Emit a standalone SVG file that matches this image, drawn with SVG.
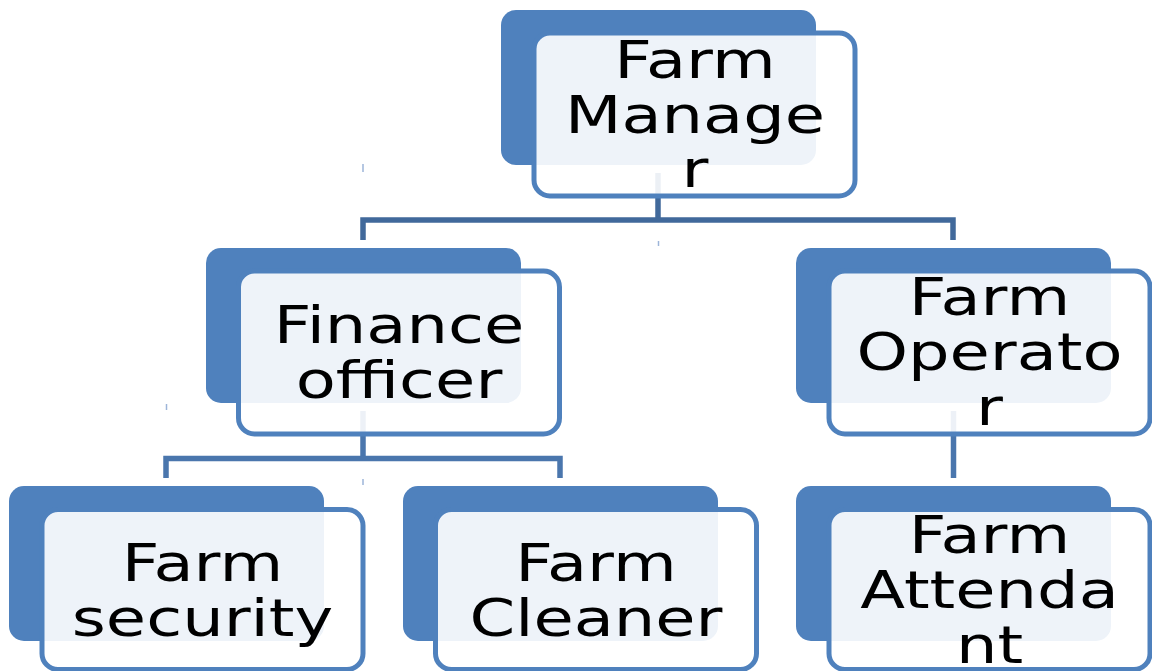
<svg xmlns="http://www.w3.org/2000/svg" width="1152" height="671" viewBox="0 0 1152 671">
<style>
.back{fill:#4F81BD}
.front{fill:#FFFFFF;fill-opacity:0.9;stroke:#4F81BD;stroke-width:5}
.t{font-family:"DejaVu Sans","Verdana",sans-serif;font-size:52px;text-anchor:middle;fill:#000000}
.c1{fill:none;stroke:#41699B;stroke-width:5.5}
.c2{fill:none;stroke:#4A76AD;stroke-width:5.5}
.tick{stroke:#9DB5D9;stroke-width:1.5}
</style>
<rect width="1152" height="671" fill="#FFFFFF"/>
<g id="connectors">
<path class="c1" d="M658,173 V220"/>
<path class="c1" d="M363,240 V220 H953 V240"/>
<path class="c2" d="M363,411 V458.5"/>
<path class="c2" d="M166,478 V458.5 H560 V478"/>
<path class="c2" d="M953.5,411 V478"/>
<line class="tick" x1="363" y1="164" x2="363" y2="172"/>
<line class="tick" x1="658.5" y1="241" x2="658.5" y2="246"/>
<line class="tick" x1="166.5" y1="404" x2="166.5" y2="410"/>
<line class="tick" x1="363" y1="479" x2="363" y2="485"/>
</g>
<g id="farm-manager">
<rect class="back" x="501" y="10" width="315" height="155" rx="15"/>
<rect class="front" x="534" y="33" width="321" height="163" rx="16"/>
<text class="t" transform="translate(695,0) scale(1.26,1)"><tspan x="0" y="78">Farm</tspan><tspan x="0" y="133">Manage</tspan><tspan x="0" y="187">r</tspan></text>
</g>
<g id="finance-officer">
<rect class="back" x="206" y="248" width="315" height="155" rx="15"/>
<rect class="front" x="238.5" y="271" width="321" height="163" rx="16"/>
<text class="t" transform="translate(399,0) scale(1.26,1)"><tspan x="0" y="343">Finance</tspan><tspan x="0" y="398">officer</tspan></text>
</g>
<g id="farm-operator">
<rect class="back" x="796" y="248" width="315" height="155" rx="15"/>
<rect class="front" x="829" y="271" width="321" height="163" rx="16"/>
<text class="t" transform="translate(989.5,0) scale(1.26,1)"><tspan x="0" y="315">Farm</tspan><tspan x="0" y="370">Operato</tspan><tspan x="0" y="425">r</tspan></text>
</g>
<g id="farm-security">
<rect class="back" x="9" y="486" width="315" height="155" rx="15"/>
<rect class="front" x="42" y="509.5" width="321" height="160" rx="16"/>
<text class="t" transform="translate(202.5,0) scale(1.26,1)"><tspan x="0" y="581">Farm</tspan><tspan x="0" y="636">security</tspan></text>
</g>
<g id="farm-cleaner">
<rect class="back" x="403" y="486" width="315" height="155" rx="15"/>
<rect class="front" x="435.5" y="509.5" width="321" height="160" rx="16"/>
<text class="t" transform="translate(596,0) scale(1.26,1)"><tspan x="0" y="581">Farm</tspan><tspan x="0" y="636">Cleaner</tspan></text>
</g>
<g id="farm-attendant">
<rect class="back" x="796" y="486" width="315" height="155" rx="15"/>
<rect class="front" x="829" y="509.5" width="321" height="160" rx="16"/>
<text class="t" transform="translate(989.5,0) scale(1.26,1)"><tspan x="0" y="553">Farm</tspan><tspan x="0" y="608">Attenda</tspan><tspan x="0" y="663">nt</tspan></text>
</g>
</svg>
